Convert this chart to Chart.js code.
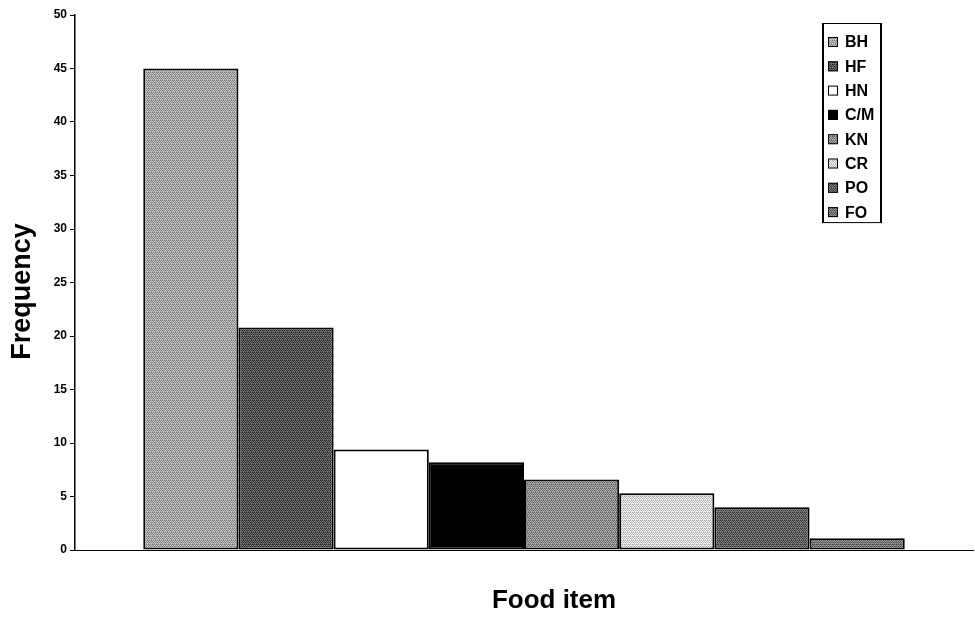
<!DOCTYPE html>
<html>
<head>
<meta charset="utf-8">
<script src="https://cdn.jsdelivr.net/npm/chart.js@4/dist/chart.umd.min.js"></script>
<style>
  html, body { margin: 0; padding: 0; background: #ffffff; }
  #wrap { width: 975px; height: 617px; }
</style>
</head>
<body>
<div id="wrap"><canvas id="chart" width="975" height="617"></canvas></div>
<script>
// Food items and how often each was recorded
const categories = [''];
const seriesNames = ['BH', 'HF', 'HN', 'C/M', 'KN', 'CR', 'PO', 'FO'];
const seriesValues = [45, 20.8, 9.4, 8.2, 6.6, 5.3, 4.0, 1.1];
const seriesGrays = [165, 82, 255, 0, 140, 215, 95, 115];
const yTicks = [0, 5, 10, 15, 20, 25, 30, 35, 40, 45, 50];
const xTitle = 'Food item';
const yTitle = 'Frequency';

// Ordered-dither stipple fill so each bar reads as a printed grey tone
const bayer = [
  [0, 8, 2, 10],
  [12, 4, 14, 6],
  [3, 11, 1, 9],
  [15, 7, 13, 5]
];
function stipple(gray) {
  const size = 8;
  const c = document.createElement('canvas');
  c.width = size; c.height = size;
  const g = c.getContext('2d');
  const img = g.createImageData(size, size);
  const amp = (gray === 0 || gray === 255) ? 0 : 110;
  for (let y = 0; y < size; y++) {
    for (let x = 0; x < size; x++) {
      const t = (bayer[y % 4][(x + (y >> 2)) % 4] / 15) - 0.5;
      const v = Math.max(0, Math.min(255, Math.round(gray + t * amp)));
      const i = (y * size + x) * 4;
      img.data[i] = v; img.data[i + 1] = v; img.data[i + 2] = v; img.data[i + 3] = 255;
    }
  }
  g.putImageData(img, 0, 0);
  return g.createPattern(c, 'repeat');
}

// Boxed legend drawn inside the plot, top right
const boxLegend = {
  id: 'boxLegend',
  afterDraw(chart, args, opts) {
    const ctx = chart.ctx;
    const area = chart.chartArea;
    const left = area.right - opts.offsetRight;
    const top = area.top + opts.offsetTop;
    const n = chart.data.datasets.length;
    const h = opts.padTop + (n - 1) * opts.rowHeight + opts.padBottom;
    ctx.save();
    ctx.fillStyle = '#ffffff';
    ctx.fillRect(left, top, opts.width, h);
    ctx.strokeStyle = '#000000';
    ctx.lineWidth = 1;
    ctx.strokeRect(left + 0.5, top + 0.5, opts.width, h);
    ctx.lineWidth = 2;
    ctx.beginPath();
    ctx.moveTo(left + 1, top); ctx.lineTo(left + 1, top + h);
    ctx.moveTo(left + opts.width, top); ctx.lineTo(left + opts.width, top + h);
    ctx.stroke();
    ctx.font = 'bold 16px "Liberation Sans", Arial, sans-serif';
    ctx.textBaseline = 'middle';
    ctx.textAlign = 'left';
    chart.data.datasets.forEach((ds, i) => {
      const cy = top + opts.padTop + i * opts.rowHeight;
      ctx.fillStyle = ds.backgroundColor;
      ctx.fillRect(left + 6, cy - 5, 10, 10);
      ctx.strokeStyle = '#000000';
      ctx.lineWidth = 1;
      ctx.strokeRect(left + 6.5, cy - 4.5, 9, 9);
      ctx.fillStyle = '#000000';
      ctx.fillText(ds.label, left + 23, cy + 1);
    });
    ctx.restore();
  }
};

// Axis titles, set slightly off the scale centres
const axisTitles = {
  id: 'axisTitles',
  afterDraw(chart, args, opts) {
    const ctx = chart.ctx;
    const xs = chart.scales.x;
    const ys = chart.scales.y;
    ctx.save();
    ctx.fillStyle = '#000000';
    ctx.textAlign = 'center';
    ctx.textBaseline = 'middle';
    ctx.font = 'bold 26px "Liberation Sans", Arial, sans-serif';
    ctx.fillText(xTitle, (xs.left + xs.right) / 2 + opts.xShift, xs.bottom - opts.xFromBottom);
    ctx.font = 'bold 27px "Liberation Sans", Arial, sans-serif';
    ctx.translate(ys.left + opts.yFromLeft, (ys.top + ys.bottom) / 2 + opts.yShift);
    ctx.rotate(-Math.PI / 2);
    ctx.fillText(yTitle, 0, 0);
    ctx.restore();
  }
};

const datasets = seriesNames.map((name, i) => ({
  label: name,
  data: [seriesValues[i]],
  backgroundColor: stipple(seriesGrays[i]),
  borderColor: '#000000',
  borderWidth: 2,
  borderSkipped: false,
  categoryPercentage: 0.848,
  barPercentage: 1.0
}));

new Chart(document.getElementById('chart'), {
  type: 'bar',
  data: { labels: categories, datasets: datasets },
  plugins: [boxLegend, axisTitles],
  options: {
    responsive: false,
    animation: false,
    devicePixelRatio: 1,
    layout: { padding: { top: 15, right: 2, left: 0, bottom: 0 } },
    plugins: {
      legend: { display: false },
      tooltip: { enabled: false },
      boxLegend: { offsetRight: 151, offsetTop: 8, width: 59, rowHeight: 24.3, padTop: 19, padBottom: 10 },
      axisTitles: { xShift: 30, xFromBottom: 16, yFromLeft: 23, yShift: 9 }
    },
    scales: {
      x: {
        grid: { display: false },
        border: { display: true, color: '#000000', width: 1 },
        ticks: { display: false },
        title: { display: false },
        afterFit(scale) { scale.height = 67; }
      },
      y: {
        min: 0,
        max: 50,
        afterBuildTicks(scale) { scale.ticks = yTicks.map(v => ({ value: v })); },
        grid: { drawOnChartArea: false, drawTicks: true, tickLength: 5, color: '#000000', lineWidth: 1 },
        border: { display: true, color: '#000000', width: 1.5 },
        ticks: {
          color: '#000000',
          padding: 3,
          font: { family: '"Liberation Sans", Arial, sans-serif', size: 12, weight: 'bold' }
        },
        title: { display: false },
        afterFit(scale) { scale.width = 75; }
      }
    }
  }
});
</script>
</body>
</html>
